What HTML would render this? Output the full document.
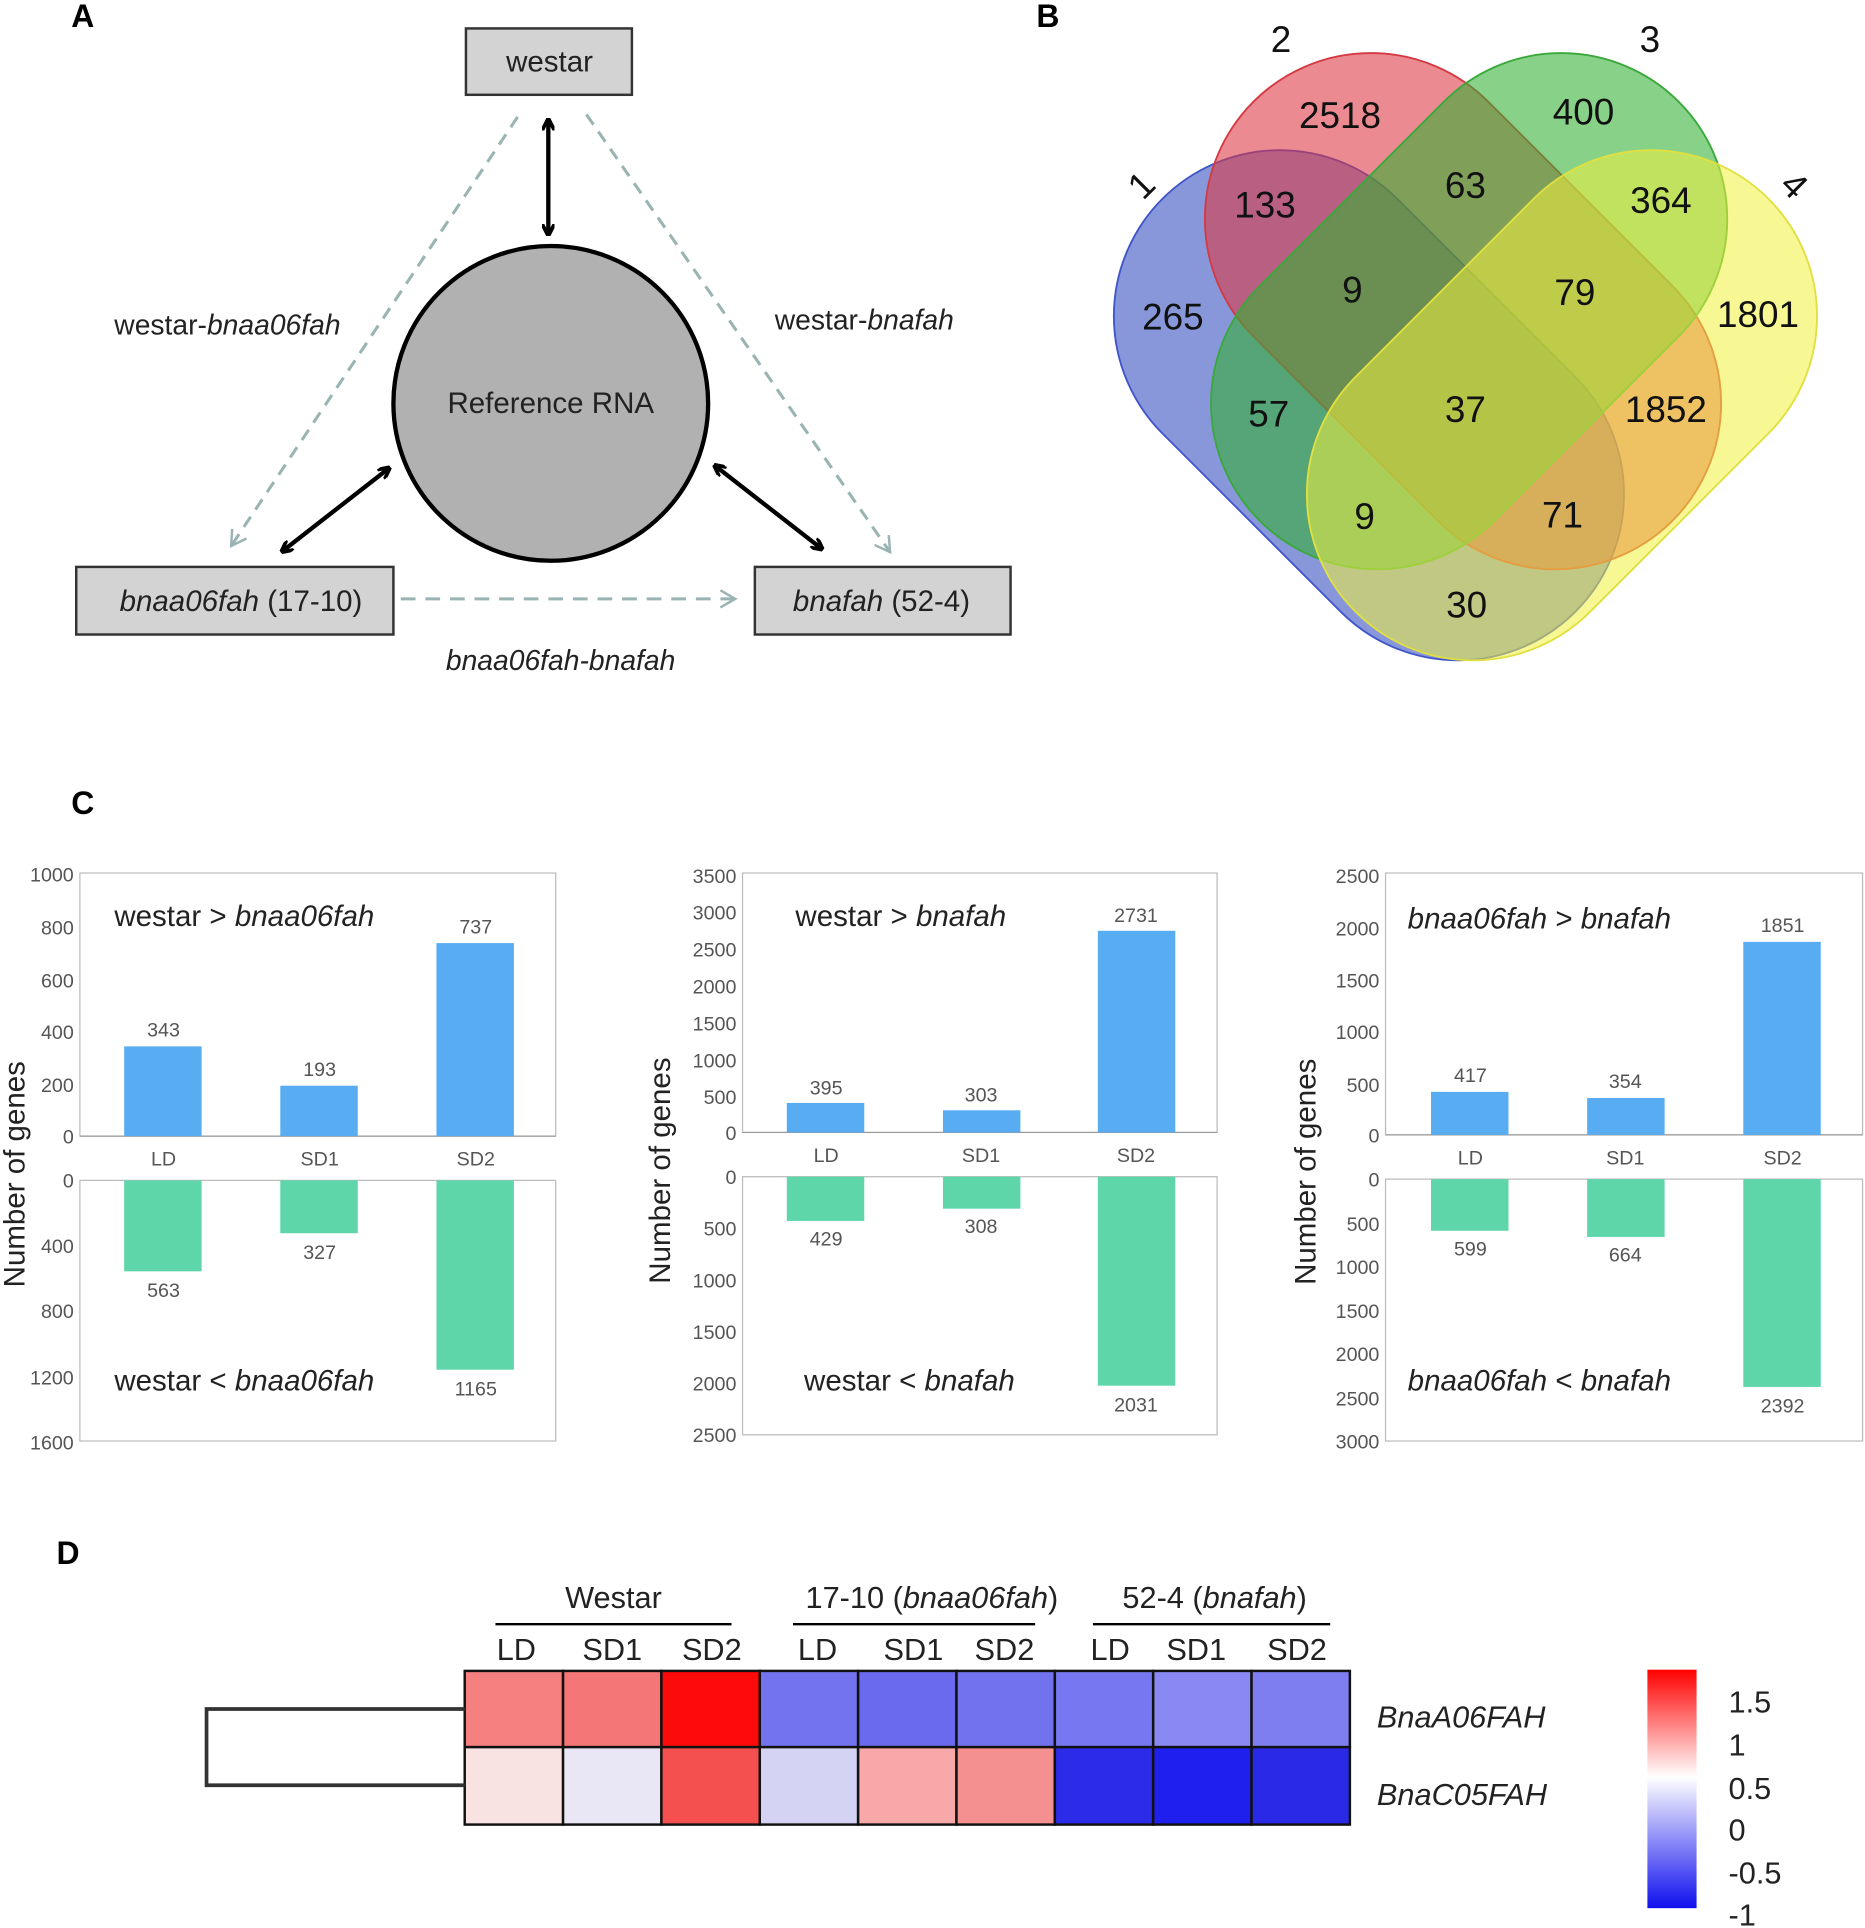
<!DOCTYPE html>
<html><head><meta charset="utf-8"><style>
html,body{margin:0;padding:0;background:#fff}
svg{display:block}
text{font-family:"Liberation Sans",sans-serif}
</style></head><body>
<svg width="1865" height="1928" viewBox="0 0 1517 1568" xmlns="http://www.w3.org/2000/svg">
<defs>
<marker id="ah" markerWidth="10" markerHeight="10" refX="8" refY="5" orient="auto-start-reverse" markerUnits="userSpaceOnUse"><path d="M0,0 L10,5 L0,10" fill="none" stroke="#000" stroke-width="3"/></marker>
<marker id="dh" markerWidth="16" markerHeight="16" refX="14" refY="8" orient="auto" markerUnits="userSpaceOnUse"><path d="M2,1 L14,8 L2,15" fill="none" stroke="#9ab4b4" stroke-width="2"/></marker>
<linearGradient id="cb" x1="0" y1="0" x2="0" y2="1">
<stop offset="0" stop-color="#ff0000"/><stop offset="0.45" stop-color="#ffffff"/><stop offset="1" stop-color="#1010ee"/></linearGradient>
</defs>
<!-- Panel A -->
<text x="58" y="22" font-size="26" font-weight="bold">A</text>
<rect x="379" y="23" width="135" height="54" fill="#d3d3d3" stroke="#333" stroke-width="2"/>
<text x="447" y="58" font-size="24" text-anchor="middle" fill="#222">westar</text>
<circle cx="448" cy="328" r="128" fill="#b1b1b1" stroke="#000" stroke-width="3.5"/>
<text x="448" y="336" font-size="24" text-anchor="middle" fill="#222">Reference RNA</text>
<line x1="446" y1="98" x2="446" y2="190" stroke="#000" stroke-width="3.5" marker-start="url(#ah)" marker-end="url(#ah)"/>
<line x1="316" y1="381" x2="230" y2="448" stroke="#000" stroke-width="3.5" marker-start="url(#ah)" marker-end="url(#ah)"/>
<line x1="582" y1="379" x2="668" y2="446" stroke="#000" stroke-width="3.5" marker-start="url(#ah)" marker-end="url(#ah)"/>
<line x1="421" y1="95" x2="188" y2="444" stroke="#9ab4b4" stroke-width="2.5" stroke-dasharray="10,7" marker-end="url(#dh)"/>
<line x1="477" y1="93" x2="724" y2="449" stroke="#9ab4b4" stroke-width="2.5" stroke-dasharray="10,7" marker-end="url(#dh)"/>
<line x1="326" y1="487" x2="598" y2="487" stroke="#9ab4b4" stroke-width="2.5" stroke-dasharray="12,8" marker-end="url(#dh)"/>
<rect x="62" y="461" width="258" height="55" fill="#d3d3d3" stroke="#333" stroke-width="2"/>
<text x="196" y="497" font-size="24" text-anchor="middle" fill="#222"><tspan font-style="italic">bnaa06fah</tspan> (17-10)</text>
<rect x="614" y="461" width="208" height="55" fill="#d3d3d3" stroke="#333" stroke-width="2"/>
<text x="717" y="497" font-size="24" text-anchor="middle" fill="#222"><tspan font-style="italic">bnafah</tspan> (52-4)</text>
<text x="185" y="272" font-size="23" text-anchor="middle" fill="#222">westar-<tspan font-style="italic">bnaa06fah</tspan></text>
<text x="703" y="268" font-size="23" text-anchor="middle" fill="#222">westar-<tspan font-style="italic">bnafah</tspan></text>
<text x="456" y="545" font-size="23" text-anchor="middle" font-style="italic" fill="#222">bnaa06fah-bnafah</text>
<!-- Panel B -->
<text x="843" y="22" font-size="26" font-weight="bold">B</text>
<g stroke-width="1.5">
<rect x="876" y="194.5" width="475" height="270" rx="135" transform="rotate(45 1113.5 329.5)" fill="rgba(50,75,190,0.58)" stroke="#3f55c8"/>
<rect x="949" y="118" width="482" height="270" rx="135" transform="rotate(45 1190 253)" fill="rgba(220,55,65,0.58)" stroke="#d43a44"/>
<rect x="954" y="118" width="482" height="270" rx="135" transform="rotate(-45 1195 253)" fill="rgba(50,175,50,0.58)" stroke="#3aa83a"/>
<rect x="1033" y="194.5" width="475" height="270" rx="135" transform="rotate(-45 1270.5 329.5)" fill="rgba(240,240,60,0.55)" stroke="#e0e040"/>
</g>
<g font-size="30" text-anchor="middle" fill="#111">
<text x="1090" y="104">2518</text><text x="1288" y="101">400</text>
<text x="1029" y="177">133</text><text x="1192" y="161">63</text><text x="1351" y="173">364</text>
<text x="954" y="268">265</text><text x="1100" y="246">9</text><text x="1281" y="248">79</text><text x="1430" y="266">1801</text>
<text x="1032" y="347">57</text><text x="1192" y="343">37</text><text x="1355" y="343">1852</text>
<text x="1110" y="430">9</text><text x="1271" y="429">71</text>
<text x="1193" y="502">30</text>
<text x="1042" y="42">2</text><text x="1342" y="42">3</text>
<text x="930" y="160" transform="rotate(-45 930 152)">1</text>
<text x="1458" y="160" transform="rotate(45 1458 152)">4</text>
</g>
<!-- Panel C -->
<text x="58" y="662" font-size="26" font-weight="bold">C</text>
<g font-size="16" fill="#555" stroke="none">
<!-- chart1 -->
<rect x="65" y="710" width="387" height="214" fill="none" stroke="#bbb"/>
<rect x="65" y="960" width="387" height="212" fill="none" stroke="#bbb"/>
<line x1="65" y1="924" x2="452" y2="924" stroke="#999"/>
<g text-anchor="end"><text x="60" y="717">1000</text><text x="60" y="760">800</text><text x="60" y="803">600</text><text x="60" y="845">400</text><text x="60" y="888">200</text><text x="60" y="930">0</text>
<text x="60" y="966">0</text><text x="60" y="1019">400</text><text x="60" y="1072">800</text><text x="60" y="1126">1200</text><text x="60" y="1179">1600</text></g>
<rect x="101" y="851" width="63" height="73" fill="#58acf2"/><rect x="228" y="883" width="63" height="41" fill="#58acf2"/><rect x="355" y="767" width="63" height="157" fill="#58acf2"/>
<rect x="101" y="960" width="63" height="74" fill="#5ed6aa"/><rect x="228" y="960" width="63" height="43" fill="#5ed6aa"/><rect x="355" y="960" width="63" height="154" fill="#5ed6aa"/>
<g text-anchor="middle"><text x="133" y="843">343</text><text x="260" y="875">193</text><text x="387" y="759">737</text>
<text x="133" y="948">LD</text><text x="260" y="948">SD1</text><text x="387" y="948">SD2</text>
<text x="133" y="1055">563</text><text x="260" y="1024">327</text><text x="387" y="1135">1165</text></g>
<text x="93" y="753" font-size="24" fill="#222">westar &gt; <tspan font-style="italic">bnaa06fah</tspan></text>
<text x="93" y="1131" font-size="24" fill="#222">westar &lt; <tspan font-style="italic">bnaa06fah</tspan></text>
<text x="20" y="955" font-size="24" fill="#222" text-anchor="middle" transform="rotate(-90 20 955)">Number of genes</text>
<!-- chart2 -->
<rect x="604" y="710" width="386" height="211" fill="none" stroke="#bbb"/>
<rect x="604" y="957" width="386" height="210" fill="none" stroke="#bbb"/>
<line x1="604" y1="921" x2="990" y2="921" stroke="#999"/>
<g text-anchor="end"><text x="599" y="718">3500</text><text x="599" y="748">3000</text><text x="599" y="778">2500</text><text x="599" y="808">2000</text><text x="599" y="838">1500</text><text x="599" y="868">1000</text><text x="599" y="898">500</text><text x="599" y="927">0</text>
<text x="599" y="963">0</text><text x="599" y="1005">500</text><text x="599" y="1047">1000</text><text x="599" y="1089">1500</text><text x="599" y="1131">2000</text><text x="599" y="1173">2500</text></g>
<rect x="640" y="897" width="63" height="24" fill="#58acf2"/><rect x="767" y="903" width="63" height="18" fill="#58acf2"/><rect x="893" y="757" width="63" height="164" fill="#58acf2"/>
<rect x="640" y="957" width="63" height="36" fill="#5ed6aa"/><rect x="767" y="957" width="63" height="26" fill="#5ed6aa"/><rect x="893" y="957" width="63" height="170" fill="#5ed6aa"/>
<g text-anchor="middle"><text x="672" y="890">395</text><text x="798" y="896">303</text><text x="924" y="750">2731</text>
<text x="672" y="945">LD</text><text x="798" y="945">SD1</text><text x="924" y="945">SD2</text>
<text x="672" y="1013">429</text><text x="798" y="1003">308</text><text x="924" y="1148">2031</text></g>
<text x="647" y="753" font-size="24" fill="#222">westar &gt; <tspan font-style="italic">bnafah</tspan></text>
<text x="654" y="1131" font-size="24" fill="#222">westar &lt; <tspan font-style="italic">bnafah</tspan></text>
<text x="545" y="952" font-size="24" fill="#222" text-anchor="middle" transform="rotate(-90 545 952)">Number of genes</text>
<!-- chart3 -->
<rect x="1127" y="710" width="388" height="213" fill="none" stroke="#bbb"/>
<rect x="1127" y="959" width="388" height="213" fill="none" stroke="#bbb"/>
<line x1="1127" y1="923" x2="1515" y2="923" stroke="#999"/>
<g text-anchor="end"><text x="1122" y="718">2500</text><text x="1122" y="761">2000</text><text x="1122" y="803">1500</text><text x="1122" y="845">1000</text><text x="1122" y="888">500</text><text x="1122" y="929">0</text>
<text x="1122" y="965">0</text><text x="1122" y="1001">500</text><text x="1122" y="1036">1000</text><text x="1122" y="1072">1500</text><text x="1122" y="1107">2000</text><text x="1122" y="1143">2500</text><text x="1122" y="1178">3000</text></g>
<rect x="1164" y="888" width="63" height="35" fill="#58acf2"/><rect x="1291" y="893" width="63" height="30" fill="#58acf2"/><rect x="1418" y="766" width="63" height="157" fill="#58acf2"/>
<rect x="1164" y="959" width="63" height="42" fill="#5ed6aa"/><rect x="1291" y="959" width="63" height="47" fill="#5ed6aa"/><rect x="1418" y="959" width="63" height="169" fill="#5ed6aa"/>
<g text-anchor="middle"><text x="1196" y="880">417</text><text x="1322" y="885">354</text><text x="1450" y="758">1851</text>
<text x="1196" y="947">LD</text><text x="1322" y="947">SD1</text><text x="1450" y="947">SD2</text>
<text x="1196" y="1021">599</text><text x="1322" y="1026">664</text><text x="1450" y="1149">2392</text></g>
<text x="1145" y="755" font-size="24" fill="#222" font-style="italic">bnaa06fah <tspan font-style="normal">&gt;</tspan> bnafah</text>
<text x="1145" y="1131" font-size="24" fill="#222" font-style="italic">bnaa06fah <tspan font-style="normal">&lt;</tspan> bnafah</text>
<text x="1070" y="953" font-size="24" fill="#222" text-anchor="middle" transform="rotate(-90 1070 953)">Number of genes</text>
</g>
<!-- Panel D -->
<text x="46" y="1272" font-size="26" font-weight="bold">D</text>
<g font-size="25" fill="#222" text-anchor="middle">
<text x="499" y="1308">Westar</text>
<text x="758" y="1308">17-10 (<tspan font-style="italic">bnaa06fah</tspan>)</text>
<text x="988" y="1308">52-4 (<tspan font-style="italic">bnafah</tspan>)</text>
<text x="420" y="1350">LD</text><text x="498" y="1350">SD1</text><text x="579" y="1350">SD2</text>
<text x="665" y="1350">LD</text><text x="743" y="1350">SD1</text><text x="817" y="1350">SD2</text>
<text x="903" y="1350">LD</text><text x="973" y="1350">SD1</text><text x="1055" y="1350">SD2</text>
</g>
<g stroke="#000" stroke-width="2">
<line x1="403" y1="1321" x2="595" y2="1321"/><line x1="645" y1="1321" x2="842" y2="1321"/><line x1="889" y1="1321" x2="1082" y2="1321"/>
</g>
<g stroke="#111" stroke-width="2">
<rect x="378" y="1359" width="80" height="62" fill="#f58080"/><rect x="458" y="1359" width="80" height="62" fill="#f57676"/><rect x="538" y="1359" width="80" height="62" fill="#fd0a0a"/>
<rect x="618" y="1359" width="80" height="62" fill="#7373f0"/><rect x="698" y="1359" width="80" height="62" fill="#6a6aee"/><rect x="778" y="1359" width="80" height="62" fill="#7272ee"/>
<rect x="858" y="1359" width="80" height="62" fill="#7777f2"/><rect x="938" y="1359" width="80" height="62" fill="#8a88f2"/><rect x="1018" y="1359" width="80" height="62" fill="#7e7ef0"/>
<rect x="378" y="1421" width="80" height="63" fill="#f9e2e2"/><rect x="458" y="1421" width="80" height="63" fill="#e9e7f6"/><rect x="538" y="1421" width="80" height="63" fill="#f55050"/>
<rect x="618" y="1421" width="80" height="63" fill="#d5d3f4"/><rect x="698" y="1421" width="80" height="63" fill="#f8a8a8"/><rect x="778" y="1421" width="80" height="63" fill="#f59090"/>
<rect x="858" y="1421" width="80" height="63" fill="#2b2be8"/><rect x="938" y="1421" width="80" height="63" fill="#2020ee"/><rect x="1018" y="1421" width="80" height="63" fill="#2929e6"/>
</g>
<path d="M378,1390 H168 V1452 H378" fill="none" stroke="#333" stroke-width="3"/>
<text x="1120" y="1405" font-size="25" font-style="italic" fill="#222">BnaA06FAH</text>
<text x="1120" y="1468" font-size="25" font-style="italic" fill="#222">BnaC05FAH</text>
<rect x="1340" y="1358" width="40" height="194" fill="url(#cb)"/>
<g font-size="25" fill="#222">
<text x="1406" y="1393">1.5</text><text x="1406" y="1428">1</text><text x="1406" y="1463">0.5</text><text x="1406" y="1497">0</text><text x="1406" y="1532">-0.5</text><text x="1406" y="1566">-1</text>
</g>
</svg>
</body></html>
